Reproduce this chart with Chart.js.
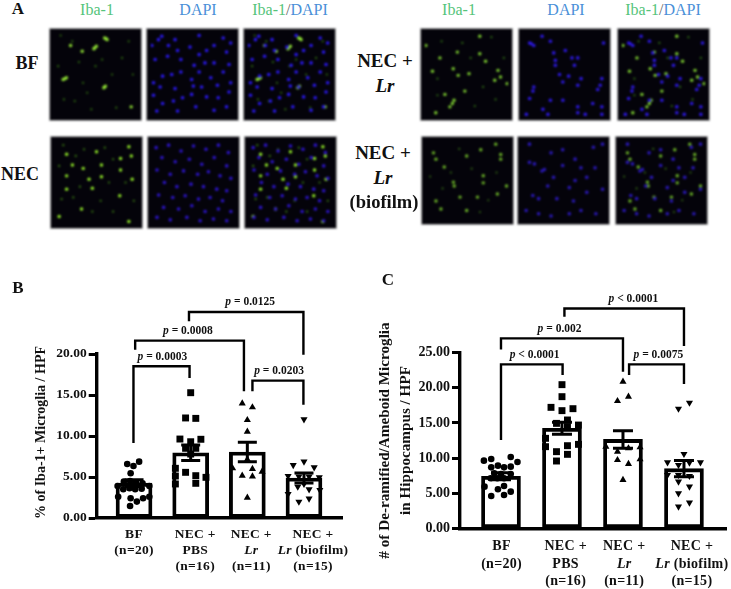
<!DOCTYPE html>
<html>
<head>
<meta charset="utf-8">
<title>Iba-1 microglia</title>
<script src="https://cdn.jsdelivr.net/npm/chart.js@4"></script>
<style>
  html, body { margin: 0; padding: 0; background: #fff; }
  #page { position: relative; width: 731px; height: 589px; overflow: hidden; font-family: "Liberation Serif", serif; }
  #page canvas { position: absolute; }
  .micro { background: #04030a; outline: 1px solid #a8a8a8; filter: blur(0.85px); }
  .txt { position: absolute; transform: translate(-50%, -50%); white-space: nowrap; line-height: 1; }
  .row { font-weight: bold; color: #111; }
  .letter { font-weight: bold; font-size: 17px; color: #111; }
  .head { font-size: 16px; }
  .green { color: #55c47a; }
  .blue { color: #4a90d8; }
  .grey { color: #666; }
</style>
</head>
<body>
<div id="page"></div>
<script>
// categories and axis labels
const labelsB = ["BF|(n=20)", "NEC +|PBS|(n=16)", "NEC +|*Lr*|(n=11)", "NEC +|*Lr* (biofilm)|(n=15)"];
const labelsC = ["BF|(n=20)", "NEC +|PBS|(n=16)", "NEC +|*Lr*|(n=11)", "NEC +|*Lr* (biofilm)|(n=15)"];
const labelAtB = [1, 2.08, 3.07, 4.16];
const labelAtC = [1.01, 2.06, 3.02, 4.13];

// panel B: bar means, sem
const meanB = [4.25, 7.95, 8.05, 4.88];
const semB = [0.42, 0.95, 1.2, 0.6];
// panel B: single animals as [offset from the bar, value]
const bfB = [[-.12,6.59],[-.01,6.34],[.09,6.87],[-.06,5.45],[-.18,4.43],[-.07,4.51],[.035,4.31],[.15,4.23],[-.29,3.9],[.27,3.9],[-.19,3.5],[-.08,3.62],[.02,3.5],[.135,3.58],[-.28,2.6],[-.06,2.4],[.05,2],[.16,2.4],[.27,2.6],[-.07,1.46]];
const pbsB = [[0,15.28],[-.09,12.2],[.09,12.15],[-.19,9.63],[.18,9.6],[0,9.3],[-.09,8.5],[.09,8.5],[0,7.8],[-.09,5.57],[.09,5.16],[.09,4.23],[-.27,6.06],[-.27,5.12],[-.27,4.15],[.27,4.96]];
const lrB = [[-.09,13.98],[.09,13.5],[0,11.95],[0,10.53],[-.26,6.06],[.26,5.65],[.09,5.98],[-.09,5.16],[.09,5.08],[0,2.48],[0,7.15]];
const biofilmB = [[0,12.03],[-.19,6.46],[0,6.87],[.18,6.18],[-.28,5.12],[.27,4.96],[-.09,5.04],[.09,5.04],[-.11,3.82],[.09,3.5],[0,4.15],[-.28,2.93],[.28,3.4],[-.09,1.99],[.09,2.36]];
// x1, x2, top, left end, right end, label x, label
const bracketsB = [
  [0.99, 1.98, 18.5, 9.15, 17.07, 1.5, "*p* = 0.0003"],
  [1.02, 2.94, 21.63, 20.53, 15.45, 1.95, "*p* = 0.0008"],
  [1.97, 3.99, 25.12, 23.98, 19.92, 3.05, "*p* = 0.0125"],
  [3.09, 3.99, 16.75, 15.45, 13.82, 3.56, "*p* = 0.0203"]
];

// panel C
const meanC = [7.4, 14.25, 12.65, 8.5];
const semC = [0.5, 0.85, 1.25, 1.15];
const bfC = [[-.28,9.63],[-.16,9.87],[.16,10.15],[.27,9.44],[-.16,8.68],[-.05,8.92],[.05,8.68],[.16,8.78],[-.11,7.83],[0,7.73],[.16,7.73],[-.17,7.12],[-.06,7.12],[.05,7.12],[-.27,5.93],[.05,6.02],[-.05,5.55],[.16,5.22],[-.16,4.6],[.05,4.74]];
const pbsC = [[0,20.45],[0,18.74],[-.18,17.22],[.18,17.03],[0,16.75],[.09,15.42],[-.09,14.94],[.09,14.47],[.27,14.7],[-.27,12.81],[-.27,11.62],[.09,11.76],[.27,11.95],[-.09,10.91],[.09,10.53],[-.09,9.58]];
const lrC = [[0,20.87],[.09,18.74],[-.09,18.12],[-.28,11.62],[-.09,10.91],[.09,11.39],[.28,11.53],[-.09,9.72],[.09,9.16],[.28,9.82],[0,6.88]];
const biofilmC = [[.09,17.88],[-.09,17.03],[0,10.58],[-.27,9.39],[.27,9.39],[-.09,9.01],[.09,9.35],[-.27,7.59],[.09,7.45],[-.09,7.59],[-.09,6.64],[.09,5.93],[-.09,4.98],[.09,3.65],[-.09,3.08]];
const bracketsC = [
  [1.0, 2.01, 23.34, 12.57, 21.82, 1.55, "*p* < 0.0001"],
  [1.0, 3.0, 27.04, 25.47, 22.3, 1.96, "*p* = 0.002"],
  [2.04, 4.0, 31.3, 30.12, 25.95, 3.17, "*p* < 0.0001"],
  [3.1, 4.0, 23.34, 21.82, 20.54, 3.58, "*p* = 0.0075"]
];

// panel A: spots seen on the micrographs, % of panel width / height
const ibaBfBright = [[20,15],[34,22],[49,18],[63,7],[64,8],[61,6],[13,55],[15,54],[11,56],[61,65],[62,64],[60,66],[93,89],[48,19],[51,16]];
const ibaBfDim = [[8,3],[30,35],[22,10],[50,40],[58,32],[70,50],[40,72],[82,30],[25,82],[95,50],[75,90],[12,80],[45,92],[90,10],[5,40],[35,60]];
const dapiBf = [[9,8],[1,15],[13,4],[29,8],[58,3],[87,6],[96,12],[21,15],[32,21],[47,17],[58,26],[67,21],[76,15],[91,23],[5,32],[20,28],[36,32],[52,39],[65,36],[76,36],[94,38],[14,52],[25,50],[3,60],[36,47],[49,56],[58,47],[72,54],[87,47],[96,60],[11,65],[29,67],[51,64],[61,65],[80,63],[3,75],[14,85],[27,82],[38,78],[49,74],[67,77],[81,78],[94,71],[7,94],[32,94],[54,89],[76,93],[91,89]];
const ibaNecBright = [[21,29],[56,29],[14,42],[41,46],[56,43],[93,46],[79,21],[92,18],[14,58],[45,57],[78,66],[5,91],[89,97],[79,35],[32,82],[50,13],[14,16],[89,7],[34,33]];
const ibaNecDim = [[10,5],[35,10],[60,8],[70,22],[25,18],[5,30],[30,55],[65,50],[8,70],[55,72],[70,85],[95,72],[22,68],[45,85],[85,50]];
const dapiNec = [[5,8],[20,5],[35,12],[50,6],[65,10],[80,5],[92,14],[12,20],[28,25],[45,22],[60,28],[75,20],[90,30],[6,35],[22,40],[38,36],[55,40],[68,37],[82,42],[95,45],[15,50],[30,55],[47,52],[62,55],[78,58],[90,60],[8,65],[25,68],[40,66],[56,70],[70,68],[85,72],[14,80],[32,82],[48,78],[64,85],[80,82],[95,85],[6,92],[22,95],[42,92],[58,96],[74,94],[90,96]];
const ibaLrBright = [[33,85],[30,89],[35,81],[9,46],[88,45],[91,53],[84,57],[66,4],[66,25],[18,30],[34,43],[53,49],[40,51],[48,70],[24,74],[1,15],[73,34],[39,23],[99,61],[13,96]];
const ibaLrDim = [[20,10],[45,12],[80,5],[55,30],[15,55],[70,65],[85,80],[60,88],[15,75],[95,30]];
const dapiLr = [[10,13],[13,15],[8,12],[23,4],[33,10],[51,21],[37,24],[39,33],[59,30],[66,30],[62,39],[39,39],[44,50],[55,52],[70,55],[95,55],[93,63],[13,65],[12,70],[48,59],[90,68],[66,63],[33,81],[48,81],[8,79],[24,92],[66,89],[66,96],[84,85],[95,89],[95,98],[30,98],[4,98],[75,98],[97,12]];
const ibaBioBright = [[22,33],[12,23],[33,52],[34,57],[69,44],[69,53],[90,17],[90,23],[84,4],[41,71],[86,67],[62,71],[18,86],[12,76],[66,11],[9,15],[49,19],[49,88],[97,57]];
const ibaBioDim = [[30,40],[55,35],[75,75],[20,60],[40,10],[65,90],[85,40],[5,45]];
const dapiBio = [[15,29],[24,38],[27,36],[9,27],[49,31],[71,34],[88,34],[38,46],[64,50],[57,59],[13,69],[20,73],[62,76],[42,73],[31,57],[78,65],[97,61],[35,95],[71,88],[89,92],[5,88],[49,11],[86,8],[97,4],[9,4],[64,23],[35,15],[78,46],[20,92],[57,92]];

Chart.defaults.animation = false;
Chart.defaults.responsive = false;
Chart.defaults.font.family = '"Liberation Serif", serif';
Chart.defaults.color = "#000";
Chart.defaults.plugins.legend.display = false;
Chart.defaults.plugins.tooltip.enabled = false;

const page = document.getElementById("page");

function addCanvas(left, top, w, h, cls) {
  const c = document.createElement("canvas");
  c.width = w;
  c.height = h;
  c.style.left = left + "px";
  c.style.top = top + "px";
  c.style.width = w + "px";
  c.style.height = h + "px";
  if (cls) c.className = cls;
  page.appendChild(c);
  return c;
}

function addText(text, x, y, cls, size) {
  const d = document.createElement("div");
  d.className = "txt " + cls;
  d.style.left = x + "px";
  d.style.top = y + "px";
  if (size) d.style.fontSize = size + "px";
  d.innerHTML = text;
  page.appendChild(d);
}

// text with *italic* pieces, centred on cx
function richText(ctx, text, cx, y, size, spacing) {
  const parts = text.split("*");
  ctx.letterSpacing = (spacing || 0) + "px";
  let w = 0;
  parts.forEach((p, i) => {
    ctx.font = (i % 2 ? "italic bold " : "bold ") + size + 'px "Liberation Serif"';
    w += ctx.measureText(p).width;
  });
  let x = cx - w / 2;
  ctx.textAlign = "left";
  ctx.textBaseline = "middle";
  ctx.fillStyle = "#111";
  parts.forEach((p, i) => {
    ctx.font = (i % 2 ? "italic bold " : "bold ") + size + 'px "Liberation Serif"';
    ctx.fillText(p, x, y);
    x += ctx.measureText(p).width;
  });
  ctx.letterSpacing = "0px";
}

const extras = {
  id: "extras",
  afterDatasetsDraw(chart, args, opts) {
    const { ctx, scales } = chart;
    const x = scales.x, y = scales.y;
    ctx.save();
    ctx.strokeStyle = "#000";
    // sem whiskers
    ctx.lineWidth = 3;
    opts.means.forEach((m, i) => {
      const cx = x.getPixelForValue(i + 1);
      const hi = y.getPixelForValue(m + opts.sems[i]);
      const lo = y.getPixelForValue(m - opts.sems[i]);
      ctx.beginPath();
      ctx.moveTo(cx, hi);
      ctx.lineTo(cx, lo);
      ctx.moveTo(cx - opts.cap, hi);
      ctx.lineTo(cx + opts.cap, hi);
      ctx.moveTo(cx - opts.cap, lo);
      ctx.lineTo(cx + opts.cap, lo);
      ctx.stroke();
    });
    // significance brackets
    ctx.lineWidth = 2.4;
    opts.brackets.forEach((b) => {
      const x1 = x.getPixelForValue(b[0]);
      const x2 = x.getPixelForValue(b[1]);
      const top = y.getPixelForValue(b[2]);
      ctx.beginPath();
      ctx.moveTo(x1, y.getPixelForValue(b[3]));
      ctx.lineTo(x1, top);
      ctx.lineTo(x2, top);
      ctx.lineTo(x2, y.getPixelForValue(b[4]));
      ctx.stroke();
      richText(ctx, b[6], x.getPixelForValue(b[5]), top - opts.labelGap, opts.pSize);
    });
    // category labels, canvas text because of the italic Lr
    opts.labels.forEach((l, i) => {
      l.split("|").forEach((line, k) => {
        richText(ctx, line, x.getPixelForValue(opts.labelAt[i]), y.bottom + opts.labelTop + k * opts.labelStep, opts.labelSize, 0.3);
      });
    });
    ctx.restore();
  },
};

function spots(groupIndex, list) {
  return list.map((p) => ({ x: groupIndex + p[0], y: p[1] }));
}

function makeBarChart(canvas, cfg) {
  const pointDefs = [
    { style: "circle", radius: 3.3, rotation: 0 },
    { style: "rect", radius: 4.9, rotation: 0 },
    { style: "triangle", radius: 4.1, rotation: 0 },
    { style: "triangle", radius: 4.1, rotation: 180 },
  ];
  const scatter = cfg.groups.map((g, i) => ({
    type: "scatter",
    data: spots(i + 1, g),
    pointStyle: pointDefs[i].style,
    pointRadius: pointDefs[i].radius,
    rotation: pointDefs[i].rotation,
    pointBackgroundColor: "#000",
    pointBorderWidth: 0,
    clip: false,
  }));
  return new Chart(canvas, {
    type: "bar",
    plugins: [extras],
    data: {
      datasets: [
        {
          data: cfg.means.map((m, i) => ({ x: i + 1, y: m })),
          backgroundColor: "rgba(255,255,255,0)",
          borderColor: "#000",
          borderWidth: 3.2,
          borderSkipped: false,
          barThickness: cfg.barWidth,
          order: 0,
        },
      ].concat(scatter),
    },
    options: {
      layout: { padding: cfg.padding },
      scales: {
        x: {
          type: "linear",
          offset: false,
          min: cfg.xMin,
          max: cfg.xMax,
          afterFit(scale) {
            scale.height = 0;
          },
          ticks: { display: false },
          grid: { display: false },
          border: { color: "#000", width: 3.4 },
        },
        y: {
          min: 0,
          max: cfg.yMax,
          afterFit(scale) {
            scale.width = cfg.axisWidth;
          },
          ticks: {
            stepSize: 5,
            padding: 2,
            font: { size: cfg.tickSize, weight: "bold" },
            color: "#111",
            callback: (v) => v.toFixed(2),
          },
          grid: { drawOnChartArea: false, tickLength: 8, tickWidth: 3, tickColor: "#000" },
          border: { color: "#000", width: 3.4 },
          title: {
            display: true,
            text: cfg.title,
            color: "#111",
            font: { size: cfg.titleSize, weight: "bold", lineHeight: cfg.titleLine },
            padding: { top: cfg.titleLeft, bottom: 0 },
          },
        },
      },
      plugins: {
        extras: {
          means: cfg.means,
          sems: cfg.sems,
          cap: cfg.cap,
          brackets: cfg.brackets,
          labels: cfg.labels,
          labelAt: cfg.labelAt,
          labelTop: cfg.labelTop,
          labelStep: cfg.labelStep,
          labelSize: cfg.labelSize,
          labelGap: 9.5,
          pSize: 11.5,
        },
      },
    },
  });
}

makeBarChart(addCanvas(0, 280, 360, 309), {
  means: meanB, sems: semB, groups: [bfB, pbsB, lrB, biofilmB], brackets: bracketsB,
  labels: labelsB, labelAt: labelAtB, labelTop: 16.5, labelStep: 16.2, labelSize: 13.5,
  padding: { top: 74, bottom: 71, left: 0, right: 18 },
  xMin: 0.341, xMax: 4.671, yMax: 20, barWidth: 36, cap: 9.5, axisWidth: 96.7,
  title: "\u00a0\u00a0% of Iba-1+ Microglia / HPF", titleLeft: 33, titleLine: 1.2, titleSize: 14, tickSize: 13.5,
});

makeBarChart(addCanvas(365, 285, 366, 304), {
  means: meanC, sems: semC, groups: [bfC, pbsC, lrC, biofilmC], brackets: bracketsC,
  labels: labelsC, labelAt: labelAtC, labelTop: 18.5, labelStep: 17.2, labelSize: 14,
  padding: { top: 67.7, bottom: 60.7, left: 0, right: 5 },
  xMin: 0.328, xMax: 4.689, yMax: 25, barWidth: 39, cap: 10, axisWidth: 95,
  title: ["# of De-ramified/Ameboid Microglia", "in Hippocampus / HPF"], titleLeft: 9.5, titleLine: 1.4, titleSize: 15.2, tickSize: 14,
});

// panel A micrographs
function makeMicro(left, top, w, h, sets) {
  new Chart(addCanvas(left, top, w, h, "micro"), {
    type: "scatter",
    data: {
      datasets: sets.map((s) => ({
        data: s.list.map((p) => ({ x: p[0], y: p[1] })),
        pointRadius: s.r,
        pointBackgroundColor: s.color,
        pointBorderWidth: 0,
      })),
    },
    options: {
      layout: { padding: 0 },
      scales: {
        x: { min: 0, max: 100, display: false },
        y: { min: 0, max: 100, reverse: true, display: false },
      },
    },
  });
}

function cellSets(bright, dim, dapi, brightCol, dimCol, dapiCol) {
  const ib = [
    { list: dim, r: 1.1, color: dimCol },
    { list: bright, r: 1.7, color: brightCol },
  ];
  const da = [{ list: dapi, r: 1.8, color: dapiCol }];
  return [ib, da, da.concat(ib)];
}

const microRows = [
  { xs: [50, 147, 244], top: 29, w: 91, h: 91, sets: cellSets(ibaBfBright, ibaBfDim, dapiBf, "#8fe034", "#2f6a10", "#2a18ee") },
  { xs: [51, 148, 245], top: 137, w: 91, h: 91, sets: cellSets(ibaNecBright, ibaNecDim, dapiNec, "#90e828", "#3a7a12", "#2c14c8") },
  { xs: [421, 519, 618], top: 29, w: 91, h: 91, sets: cellSets(ibaLrBright, ibaLrDim, dapiLr, "#7ccc30", "#2f6a14", "#2c18e0") },
  { xs: [422, 518, 616], top: 137, w: 91, h: 87, sets: cellSets(ibaBioBright, ibaBioDim, dapiBio, "#6cb428", "#2f5e14", "#2a18b8") },
];
microRows.forEach((r) => {
  r.xs.forEach((x, i) => makeMicro(x, r.top, r.w, r.h, r.sets[i]));
});

// headings and row names
addText("A", 18, 8, "letter");
addText("B", 18, 287, "letter");
addText("C", 388, 279, "letter");
addText("Iba-1", 97, 10, "head green");
addText("DAPI", 198, 10, "head blue");
addText('<span class="green">Iba-1</span><span class="grey">/</span><span class="blue">DAPI</span>', 290, 10, "head");
addText("Iba-1", 459, 10, "head green");
addText("DAPI", 566, 10, "head blue");
addText('<span class="green">Iba-1</span><span class="grey">/</span><span class="blue">DAPI</span>', 663, 10, "head");
addText("BF", 27, 63, "row", 18);
addText("NEC", 20, 174, "row", 18);
addText("NEC +", 385, 60, "row", 19);
addText("<i>Lr</i>", 385, 85, "row", 19);
addText("NEC +", 383, 152, "row", 19);
addText("<i>Lr</i>", 383, 177, "row", 19);
addText("(biofilm)", 384, 202, "row", 18.5);
</script>
</body>
</html>
